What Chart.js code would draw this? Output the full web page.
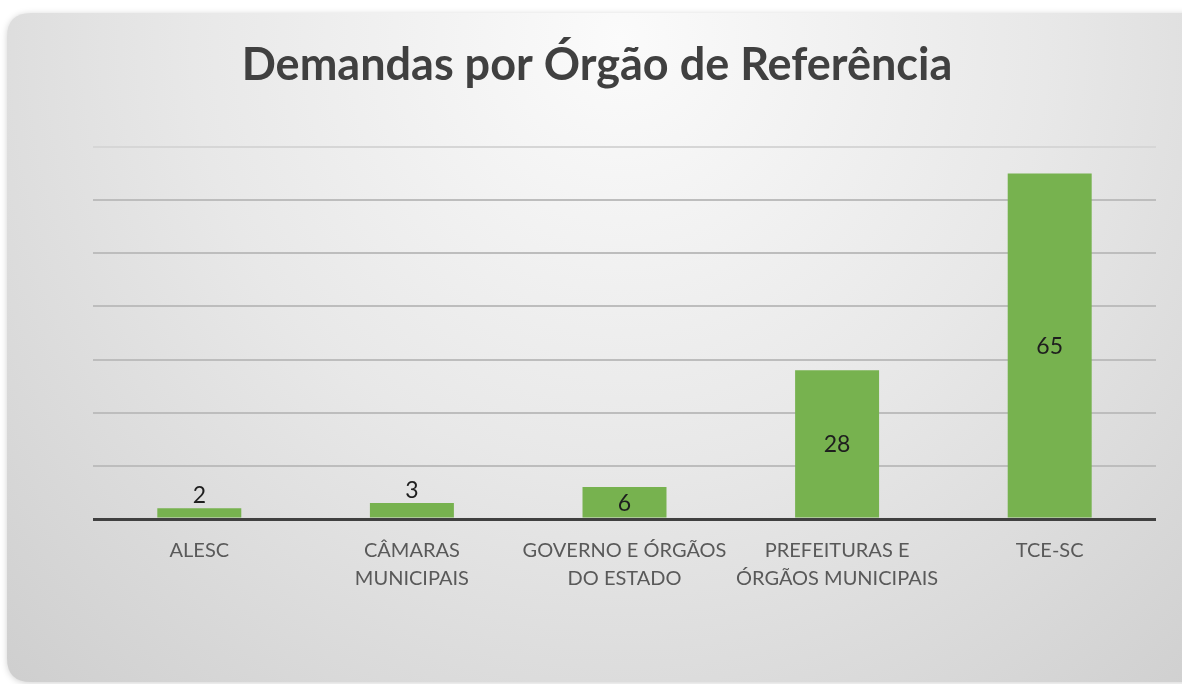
<!DOCTYPE html>
<html>
<head>
<meta charset="utf-8">
<script src="https://cdn.jsdelivr.net/npm/chart.js@4/dist/chart.umd.min.js"></script>
<style>
  html, body { margin: 0; padding: 0; background: #ffffff; }
  #wrap { width: 1182px; height: 684px; position: relative; }
</style>
</head>
<body>
<div id="wrap"><canvas id="c" width="1182" height="684"></canvas></div>
<script>
const titleText = 'Demandas por Órgão de Referência';
const categories = [
  'ALESC',
  ['CÂMARAS', 'MUNICIPAIS'],
  ['GOVERNO E ÓRGÃOS', 'DO ESTADO'],
  ['PREFEITURAS E', 'ÓRGÃOS MUNICIPAIS'],
  'TCE-SC'
];
const demandas = [2, 3, 6, 28, 65];
const yMax = 70;
const yStep = 10;

const titleFont = { family: 'Lato, "Open Sans", sans-serif', size: 45, weight: 'bold', lineHeight: 1.2 };

const cardPlugin = {
  id: 'card',
  beforeDraw(chart) {
    const ctx = chart.ctx;
    const x = 7, y = 13, w = 1182 - 7 + 20, h = 682 - 13, r = 24;
    ctx.save();
    ctx.shadowColor = 'rgba(0,0,0,0.18)';
    ctx.shadowBlur = 6;
    ctx.shadowOffsetX = 0;
    ctx.shadowOffsetY = 1;
    const g = ctx.createRadialGradient(620, 40, 0, 620, 40, 950);
    g.addColorStop(0, '#fbfbfb');
    g.addColorStop(0.45, '#e8e8e8');
    g.addColorStop(1, '#cbcbcb');
    ctx.fillStyle = g;
    ctx.beginPath();
    ctx.moveTo(x + r, y);
    ctx.lineTo(x + w, y);
    ctx.lineTo(x + w, y + h);
    ctx.lineTo(x + r, y + h);
    ctx.quadraticCurveTo(x, y + h, x, y + h - r);
    ctx.lineTo(x, y + r);
    ctx.quadraticCurveTo(x, y, x + r, y);
    ctx.closePath();
    ctx.fill();
    ctx.restore();
  }
};

const titleDraw = {
  id: 'titleDraw',
  afterDraw(chart) {
    const t = chart.titleBlock;
    if (!t) return;
    const ctx = chart.ctx;
    ctx.save();
    ctx.font = 'bold ' + titleFont.size + 'px ' + titleFont.family;
    ctx.fillStyle = '#404040';
    ctx.textAlign = 'center';
    ctx.textBaseline = 'middle';
    const cy = t.top + t.options.padding.top + titleFont.size * titleFont.lineHeight / 2;
    ctx.fillText(titleText, 597, cy);
    ctx.restore();
  }
};

const valueLabels = {
  id: 'valueLabels',
  afterDatasetsDraw(chart) {
    const ctx = chart.ctx;
    const meta = chart.getDatasetMeta(0);
    ctx.save();
    ctx.font = '23px Lato, "Open Sans", sans-serif';
    ctx.fillStyle = '#1e1e1e';
    ctx.textAlign = 'center';
    meta.data.forEach((bar, i) => {
      const v = chart.data.datasets[0].data[i];
      const hgt = bar.base - bar.y;
      if (hgt > 26) {
        ctx.textBaseline = 'middle';
        ctx.fillText(String(v), bar.x, (bar.y + bar.base) / 2 + 1);
      } else {
        ctx.textBaseline = 'alphabetic';
        ctx.fillText(String(v), bar.x, bar.y - 5);
      }
    });
    ctx.restore();
  }
};

new Chart(document.getElementById('c'), {
  type: 'bar',
  data: {
    labels: categories,
    datasets: [{
      label: 'Demandas',
      data: demandas,
      backgroundColor: '#77b24f',
      borderWidth: 0,
      categoryPercentage: 1.0,
      barPercentage: 0.395
    }]
  },
  options: {
    responsive: false,
    animation: false,
    layout: { padding: { left: 93, right: 26, top: 0, bottom: 73 } },
    plugins: {
      legend: { display: false },
      tooltip: { enabled: false },
      title: {
        display: true,
        text: titleText,
        color: 'rgba(0,0,0,0)',
        font: titleFont,
        padding: { top: 38, bottom: 55 }
      }
    },
    scales: {
      x: {
        grid: { display: false, drawTicks: false },
        border: { display: false },
        ticks: {
          color: '#595959',
          padding: 18,
          font: { family: 'Lato, "Open Sans", sans-serif', size: 20, lineHeight: 28 / 20 },
          maxRotation: 0,
          autoSkip: false
        }
      },
      y: {
        min: 0,
        max: yMax,
        ticks: { stepSize: yStep, display: false },
        border: { display: false },
        grid: {
          drawTicks: false,
          color: (c) => c.tick && c.tick.value === 0 ? '#404040' : (c.tick && c.tick.value === yMax ? '#d6d6d6' : '#bdbdbd'),
          lineWidth: (c) => c.tick && c.tick.value === 0 ? 3 : 2
        }
      }
    }
  },
  plugins: [cardPlugin, valueLabels, titleDraw]
});
</script>
</body>
</html>
